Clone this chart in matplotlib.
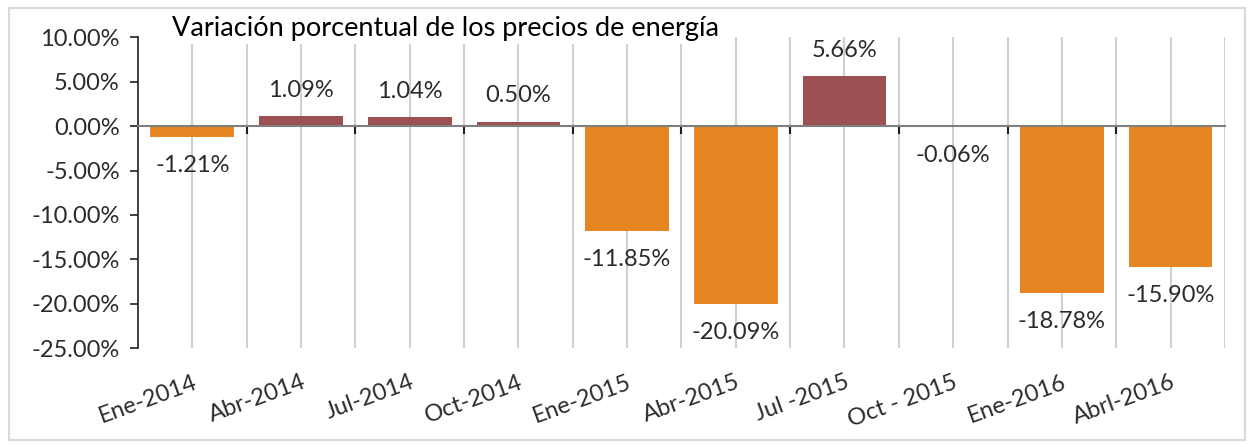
import numpy as np
import matplotlib.pyplot as plt
from matplotlib.patches import Rectangle


periods = ['Ene-2014', 'Abr-2014', 'Jul-2014', 'Oct-2014', 'Ene-2015',
           'Abr-2015', 'Jul -2015', 'Oct - 2015', 'Ene-2016', 'Abrl-2016']
variation = [-1.21, 1.09, 1.04, 0.50, -11.85, -20.09, 5.66, -0.06, -18.78, -15.90]
y_ticks = [10, 5, 0, -5, -10, -15, -20, -25]

title = 'Variación porcentual de los precios de energía'

color_up = '#9D5052'
color_down = '#E68623'
text_color = '#2B2B2B'


plt.rcParams['font.family'] = ['Lato', 'DejaVu Sans']

fig = plt.figure(figsize=(12.53, 4.46), dpi=100)
ax = fig.add_axes([0.1101, 0.2197, 0.8675, 0.6964])

x = np.arange(len(periods))
colors = [color_up if v > 0 else color_down for v in variation]
ax.bar(x, variation, width=0.77, color=colors, zorder=3)

# data labels, above positive bars and below negative ones
for xi, v in zip(x, variation):
    if v >= 0:
        ax.annotate(f'{v:.2f}%', (xi, v), xytext=(0, 11), textcoords='offset points',
                    ha='center', va='bottom', fontsize=17, color=text_color)
    else:
        ax.annotate(f'{v:.2f}%', (xi, v), xytext=(0, -13), textcoords='offset points',
                    ha='center', va='top', fontsize=17, color=text_color)

ax.set_xlim(-0.5, len(periods) - 0.5)
ax.set_ylim(min(y_ticks), max(y_ticks))

# vertical grid at category centres and boundaries
bounds = np.arange(len(periods) + 1) - 0.5
for gx in np.concatenate([x, bounds[1:]]):
    ax.axvline(gx, color='#D0D0D0', lw=1.5, zorder=1)

ax.set_yticks(y_ticks)
ax.set_yticklabels([f'{t:.2f}%' for t in y_ticks], fontsize=17, color=text_color)
ax.tick_params(axis='y', direction='out', length=6, width=1.2, pad=7, color='#202020')

ax.set_xticks(x)
ax.set_xticklabels(periods, fontsize=17, color=text_color, rotation=20,
                   ha='right', va='top', rotation_mode='anchor')
ax.tick_params(axis='x', length=0, pad=17)

for side in ['top', 'right', 'bottom']:
    ax.spines[side].set_visible(False)
ax.spines['left'].set_color('#202020')
ax.spines['left'].set_linewidth(1.2)

# category axis line at zero with tick marks between categories
zero_frac = (0 - min(y_ticks)) / (max(y_ticks) - min(y_ticks))
sec = ax.secondary_xaxis(zero_frac)
sec.set_xticks(bounds[1:-1])
sec.set_xticklabels([])
sec.tick_params(axis='x', direction='in', length=6, width=1.5, color='#202020')
for side in ['top', 'bottom']:
    sec.spines[side].set_color('#7F7F7F')
    sec.spines[side].set_linewidth(1.5)
sec.set_zorder(5)

fig.text(0.137, 0.935, title, fontsize=19.5, color='black', va='center', ha='left',
         bbox=dict(facecolor='white', edgecolor='none', pad=2))

fig.patches.append(Rectangle((0.007, 0.013), 0.987, 0.97, transform=fig.transFigure,
                             fill=False, edgecolor='#D9D9D9', lw=1.5))

fig.savefig('out.png', dpi=100)
